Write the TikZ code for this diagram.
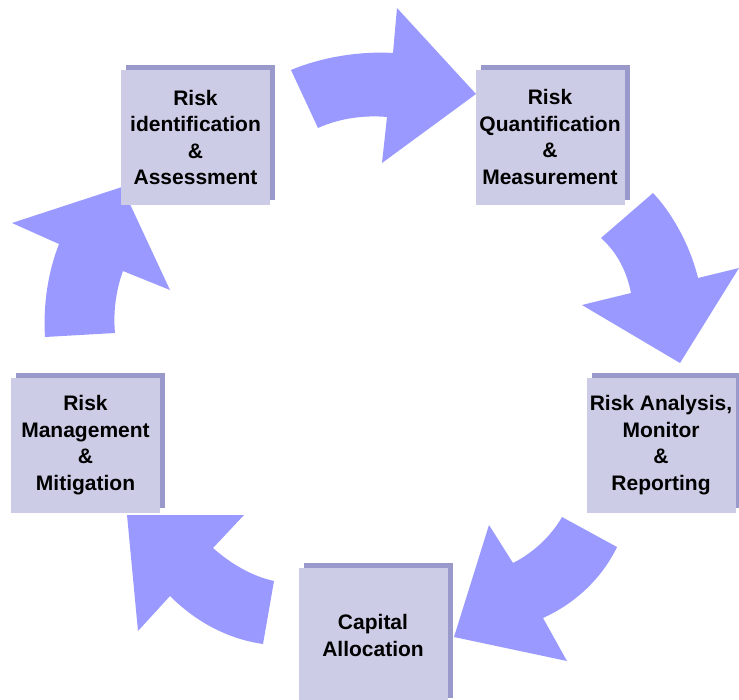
\documentclass[tikz,border=0pt]{standalone}
\usepackage{fontspec}
\setmainfont{Liberation Sans}
\usetikzlibrary{positioning,shadows}
\definecolor{CycleBlue}{RGB}{153,153,255}
\definecolor{StageFill}{RGB}{204,204,230}
\definecolor{StageShade}{RGB}{153,153,204}

\tikzset{
  stage/.style={fill=StageFill,minimum width=149,minimum height=135,inner sep=0pt,
    align=center,font=\fontsize{21}{26.5}\selectfont\bfseries,
    drop shadow={shadow xshift=5pt,shadow yshift=5pt,fill=StageShade,opacity=1}},
  cycle/.style={fill=CycleBlue}
}

\begin{document}
\begin{tikzpicture}[x=1pt,y=-1pt]
\useasboundingbox (0,0) rectangle (739,699);
\fill[cycle] (291,70) .. controls (322,57) and (360,51) .. (393,53) -- (397,8) -- (476,94) -- (382,163) -- (387,117) .. controls (365,115) and (340,118) .. (318,128) -- cycle;
\fill[cycle] (653,193) .. controls (672,213) and (690,245) .. (698,278) -- (739,268) -- (680,363) -- (582,305) -- (631,293) .. controls (627,272) and (617,252) .. (601,238) -- cycle;
\fill[cycle] (617,547) .. controls (602,578) and (576,603) .. (543,618) -- (567,661) -- (454,637) -- (489,525) -- (513,563) .. controls (531,554) and (550,538) .. (562,517) -- cycle;
\fill[cycle] (263,644) .. controls (228,639) and (196,622) .. (170,596) -- (138,631) -- (127,515) -- (244,515) -- (213,548) .. controls (230,563) and (251,576) .. (274,581) -- cycle;
\fill[cycle] (45,337) .. controls (43,305) and (48,272) .. (59,244) -- (12,223) -- (122,187) -- (170,290) -- (123,271) .. controls (116,290) and (113,312) .. (115,333) -- cycle;
\node[stage] (ident) at (195.5,137.5) {Risk\\identification\\\&\\Assessment};
\node[stage] (quant) at (550,137) {Risk\\Quantification\\\&\\Measurement};
\node[stage] (report) at (661,445) {Risk Analysis,\\Monitor\\\&\\Reporting};
\node[stage] (capital) at (373,635.5) {Capital\\Allocation};
\node[stage] (mitig) at (85.5,445) {Risk\\Management\\\&\\Mitigation};
\end{tikzpicture}
\end{document}
